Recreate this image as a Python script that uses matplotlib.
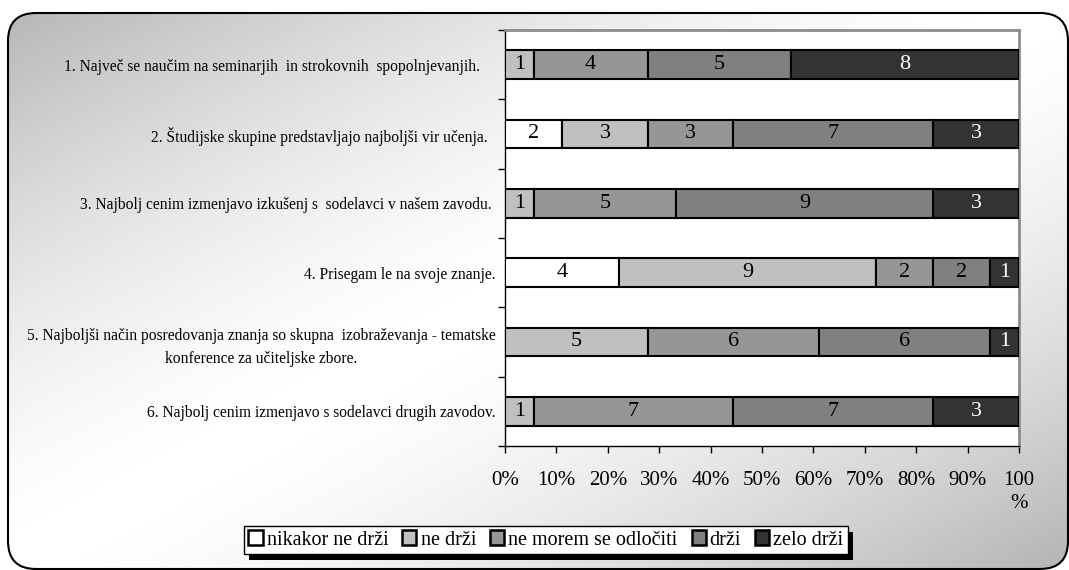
import matplotlib
matplotlib.use("Agg")
import matplotlib.pyplot as plt
import numpy as np
from matplotlib.patches import FancyBboxPatch, Rectangle, Patch
from matplotlib.transforms import IdentityTransform

plt.rcParams['font.family'] = ['Liberation Serif', 'DejaVu Serif']

# survey statements (top to bottom)
statements = [
    "1. Največ se naučim na seminarjih  in strokovnih  spopolnjevanjih.    ",
    "2. Študijske skupine predstavljajo najboljši vir učenja.  ",
    "3. Najbolj cenim izmenjavo izkušenj s  sodelavci v našem zavodu. ",
    "4. Prisegam le na svoje znanje.",
    "5. Najboljši način posredovanja znanja so skupna  izobraževanja - tematske\nkonference za učiteljske zbore.",
    "6. Najbolj cenim izmenjavo s sodelavci drugih zavodov.",
]

answers = ["nikakor ne drži", "ne drži", "ne morem se odločiti", "drži", "zelo drži"]

# number of respondents per answer, one list per answer
nikakor_ne_drzi = [0, 2, 0, 4, 0, 0]
ne_drzi = [1, 3, 1, 9, 5, 1]
ne_morem = [4, 3, 5, 2, 6, 7]
drzi = [5, 7, 9, 2, 6, 7]
zelo_drzi = [8, 3, 3, 1, 1, 3]

x_ticks = [0, 0.1, 0.2, 0.3, 0.4, 0.5, 0.6, 0.7, 0.8, 0.9, 1.0]
x_ticklabels = ["0%", "10%", "20%", "30%", "40%", "50%", "60%", "70%", "80%", "90%", "100\n%"]

fills = ["#ffffff", "#c0c0c0", "#969696", "#808080", "#333333"]
text_colors = ["black", "black", "black", "black", "white"]

W, H = 1069, 570
fig = plt.figure(figsize=(W / 100, H / 100), dpi=100)
fig.patch.set_facecolor("white")

# shaded rounded panel behind everything
bg = fig.add_axes([0, 0, 1, 1], zorder=-10)
bg.set_xlim(0, W)
bg.set_ylim(H, 0)
bg.axis("off")
yy, xx = np.mgrid[0:H, 0:W]
d = np.abs(xx / W + yy / H - 1)
shade = 1 - 0.3 * d ** 1.5
im = bg.imshow(shade, cmap="gray", vmin=0, vmax=1, extent=(0, W, H, 0),
               interpolation="bilinear", aspect="auto")
panel = FancyBboxPatch((8, 13), 1060, 556, boxstyle="round,pad=0,rounding_size=28",
                       fc="none", ec="black", lw=1.5)
bg.add_patch(panel)
im.set_clip_path(panel)

ax = fig.add_axes([505 / W, 1 - 446 / H, (1019 - 505) / W, (446 - 30) / H])
ax.set_facecolor("white")

series = np.array([nikakor_ne_drzi, ne_drzi, ne_morem, drzi, zelo_drzi], dtype=float)
totals = series.sum(axis=0)
shares = series / totals
y = np.arange(len(statements))
left = np.zeros(len(statements))

for i, name in enumerate(answers):
    ax.barh(y, shares[i], left=left, height=0.41, color=fills[i],
            edgecolor="black", linewidth=1.5, label=name, zorder=3)
    for j in range(len(statements)):
        if series[i, j] > 0:
            ax.text(left[j] + shares[i, j] / 2, y[j], "%d" % series[i, j],
                    ha="center", va="center", fontsize=16, color=text_colors[i], zorder=4)
    left += shares[i]

ax.set_xlim(0, 1)
ax.set_ylim(len(statements) - 0.5, -0.5)

ax.set_xticks(x_ticks)
ax.set_xticklabels(x_ticklabels, fontsize=15, linespacing=1.3, va="top")
ax.tick_params(axis="x", direction="out", length=5, width=1, pad=13)

ax.set_yticks(y)
ax.set_yticklabels(statements, fontsize=11.2, multialignment="center", linespacing=1.55)
ax.set_yticks(np.arange(len(statements) + 1) - 0.5, minor=True)
ax.tick_params(axis="y", which="major", length=0, pad=7)
ax.tick_params(axis="y", which="minor", direction="out", length=5, width=1)

for side in ["top", "right"]:
    ax.spines[side].set_color("#8c8c8c")
    ax.spines[side].set_linewidth(2)
ax.spines["left"].set_linewidth(1)
ax.spines["bottom"].set_linewidth(1)

handles = [Patch(facecolor=fills[i], edgecolor="black", linewidth=1.8) for i in range(len(answers))]
leg = fig.legend(handles, answers, loc="center", bbox_to_anchor=(546 / W, 1 - 540 / H),
                 ncol=5, fontsize=14.5, frameon=True, fancybox=False, framealpha=1,
                 edgecolor="black", handlelength=0.7, handleheight=0.7,
                 handletextpad=0.2, columnspacing=0.7, borderpad=0.22,
                 borderaxespad=0)
leg.get_frame().set_linewidth(1)
leg.set_zorder(6)

fig.canvas.draw()
bb = leg.get_window_extent()
shadow = Rectangle((bb.x0 + 5, bb.y0 - 6), bb.width, bb.height, transform=IdentityTransform(),
                   facecolor="black", edgecolor="none", zorder=5)
fig.add_artist(shadow)

fig.savefig("out.png", dpi=100)
